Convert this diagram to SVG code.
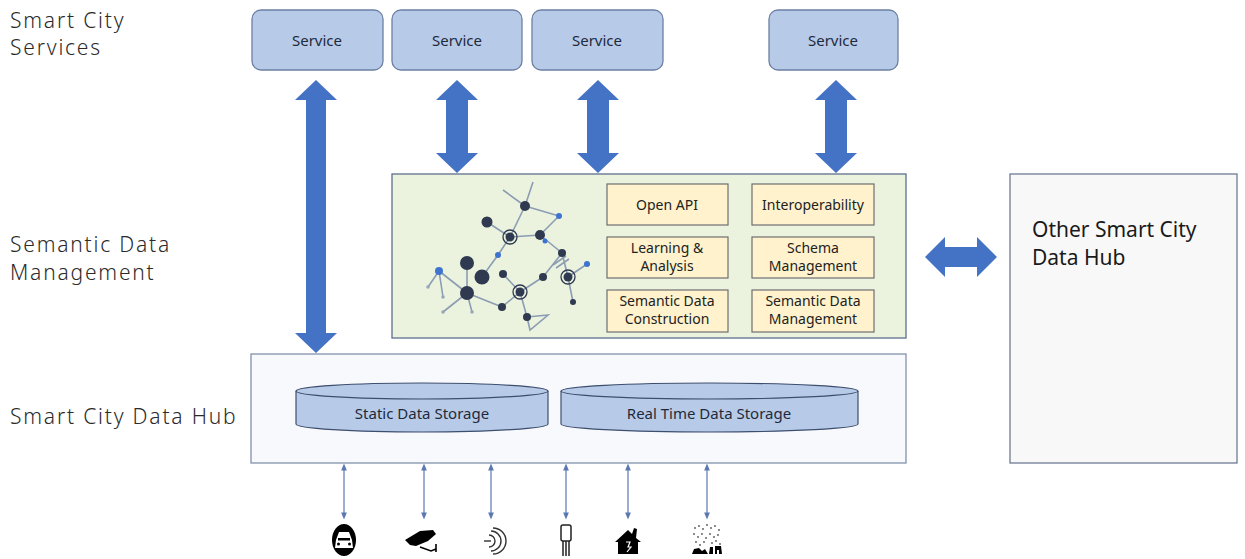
<svg xmlns="http://www.w3.org/2000/svg" width="1245" height="559" viewBox="0 0 1245 559">
  <style>
    .lbl { font-family: "Noto Sans", "Open Sans", sans-serif; font-size: 21px; fill: #2b2b2b; font-weight: 300; letter-spacing: 1.8px; }
    .svc { fill: #b7cbe9; stroke: #6c80a3; stroke-width: 1.3; }
    .svct { font-family: "Noto Sans", "Open Sans", sans-serif; font-size: 15px; fill: #1e2a3a; text-anchor: middle; }
    .func { fill: #fff2cc; stroke: #6e6e6e; stroke-width: 1.2; }
    .funct { font-family: "Noto Sans", "Open Sans", sans-serif; font-size: 14px; fill: #222; text-anchor: middle; }
    .big { fill: #4472c4; }
    .thin { stroke: #5b78b0; stroke-width: 1.2; fill: none; marker-start: url(#sa); marker-end: url(#sa); }
    .cyl { fill: #b7cbe9; stroke: #3e4e6e; stroke-width: 1.2; }
    .cylt { font-family: "Noto Sans", "Open Sans", sans-serif; font-size: 15px; fill: #1e2a3a; text-anchor: middle; }
    .edge { stroke: #8c9cb3; stroke-width: 1.6; fill: none; }
    .dk { fill: #2f394f; }
    .bl { fill: #3f73d0; }
    .ring { fill: none; stroke: #2f394f; stroke-width: 1.3; }
    .icon { fill: #000; }
  </style>
  <defs>
    <marker id="sa" viewBox="0 0 10 10" refX="5" refY="5" markerWidth="6" markerHeight="6" orient="auto-start-reverse">
      <path d="M0,1 L10,5 L0,9 Z" fill="#5b78b0"/>
    </marker>
  </defs>

  <rect width="1245" height="559" fill="#ffffff"/>

  <!-- layer labels -->
  <g id="layer-labels">
    <text class="lbl" x="10" y="28">Smart City</text>
    <text class="lbl" x="10" y="55">Services</text>
    <text class="lbl" x="10" y="252">Semantic Data</text>
    <text class="lbl" x="10" y="280">Management</text>
    <text class="lbl" x="10" y="424">Smart City Data Hub</text>
  </g>

  <!-- services -->
  <g id="service-1"><rect class="svc" x="252" y="10" width="131" height="60" rx="9"/><text class="svct" x="317" y="46">Service</text></g>
  <g id="service-2"><rect class="svc" x="392" y="10" width="130" height="60" rx="9"/><text class="svct" x="457" y="46">Service</text></g>
  <g id="service-3"><rect class="svc" x="532" y="10" width="131" height="60" rx="9"/><text class="svct" x="597" y="46">Service</text></g>
  <g id="service-4"><rect class="svc" x="769" y="10" width="129" height="60" rx="9"/><text class="svct" x="833" y="46">Service</text></g>

  <!-- semantic data management panel -->
  <g id="semantic-panel">
    <rect x="392" y="174" width="514" height="164" fill="#ebf3df" stroke="#5d6f8c" stroke-width="1.3"/>
    <!-- knowledge graph glyph -->
    <g id="graph-glyph">
      <path class="edge" d="M533,182 L525,206 M503,190 L525,206 M525,206 L559,216 M525,206 L510,237 M487,222 L510,237 M510,237 L540,235 M540,235 L559,216 M540,235 L562,253 M510,237 L498,255 M498,255 L482,277 M562,253 L568,277 M568,277 L587,264 M568,277 L573,302 M562,253 L543,277 M543,277 L520,292 M503,274 L520,292 M520,292 L502,307 M502,307 L467,293 M467,293 L467,263 M467,293 L439,271 M439,271 L428,287 M439,271 L443,297 M467,293 L443,312 M467,293 L472,312 M520,292 L527,317 M527,317 L530,330 L548,315 L527,317 M553,265 L566,256 M556,268 L569,259"/>
      <circle class="dk" cx="525" cy="206" r="5"/>
      <circle class="bl" cx="559" cy="216" r="3"/>
      <circle class="dk" cx="487" cy="222" r="5.5"/>
      <circle class="dk" cx="510" cy="237" r="4.5"/>
      <circle class="ring" cx="510" cy="237" r="7"/>
      <circle class="dk" cx="540" cy="235" r="5"/>
      <circle class="bl" cx="545" cy="241" r="2.5"/>
      <circle class="bl" cx="498" cy="255" r="3"/>
      <circle class="dk" cx="562" cy="253" r="4"/>
      <circle class="bl" cx="587" cy="264" r="3"/>
      <circle class="dk" cx="467" cy="263" r="7"/>
      <circle class="bl" cx="439" cy="271" r="4"/>
      <circle class="dk" cx="568" cy="277" r="4.5"/>
      <circle class="ring" cx="568" cy="277" r="7"/>
      <circle class="dk" cx="482" cy="277" r="7.5"/>
      <circle class="dk" cx="503" cy="274" r="4"/>
      <circle class="dk" cx="543" cy="277" r="4"/>
      <circle class="dk" cx="520" cy="292" r="4.5"/>
      <circle class="ring" cx="520" cy="292" r="7"/>
      <circle class="dk" cx="467" cy="293" r="7"/>
      <circle class="dk" cx="573" cy="302" r="3"/>
      <circle class="dk" cx="502" cy="307" r="4"/>
      <circle class="dk" cx="527" cy="317" r="4"/>
      <circle fill="#9aa7b8" cx="428" cy="287" r="1.8"/>
      <circle fill="#9aa7b8" cx="443" cy="297" r="1.8"/>
      <circle fill="#9aa7b8" cx="443" cy="312" r="1.8"/>
      <circle fill="#9aa7b8" cx="472" cy="312" r="1.8"/>
    </g>
  </g>

  <g id="fn-open-api"><rect class="func" x="607" y="184" width="121" height="41"/><text class="funct" x="667" y="210">Open API</text></g>
  <g id="fn-interoperability"><rect class="func" x="752" y="184" width="122" height="41"/><text class="funct" x="813" y="210">Interoperability</text></g>
  <g id="fn-learning"><rect class="func" x="607" y="237" width="121" height="41"/><text class="funct" x="667" y="253">Learning &amp;</text><text class="funct" x="667" y="271">Analysis</text></g>
  <g id="fn-schema"><rect class="func" x="752" y="237" width="122" height="41"/><text class="funct" x="813" y="253">Schema</text><text class="funct" x="813" y="271">Management</text></g>
  <g id="fn-construction"><rect class="func" x="607" y="290" width="121" height="42"/><text class="funct" x="667" y="306">Semantic Data</text><text class="funct" x="667" y="324">Construction</text></g>
  <g id="fn-management"><rect class="func" x="752" y="290" width="122" height="42"/><text class="funct" x="813" y="306">Semantic Data</text><text class="funct" x="813" y="324">Management</text></g>

  <!-- data hub -->
  <g id="data-hub">
    <rect x="251" y="354" width="655" height="109" fill="#f7f9fc" stroke="#8292ad" stroke-width="1.3"/>
  </g>
  <g id="static-storage">
    <path class="cyl" d="M296,391 L296,424 A126,8 0 0 0 548,424 L548,391"/>
    <ellipse class="cyl" cx="422" cy="391" rx="126" ry="8"/>
    <text class="cylt" x="422" y="419">Static Data Storage</text>
  </g>
  <g id="realtime-storage">
    <path class="cyl" d="M561,391 L561,424 A148.5,8 0 0 0 858,424 L858,391"/>
    <ellipse class="cyl" cx="709.5" cy="391" rx="148.5" ry="8"/>
    <text class="cylt" x="709" y="419">Real Time Data Storage</text>
  </g>

  <!-- other data hub -->
  <g id="other-hub">
    <rect x="1010" y="174" width="227" height="289" fill="#f8f8f8" stroke="#6c7b96" stroke-width="1.3"/>
    <text x="1032" y="237" font-family="Noto Sans, Open Sans, sans-serif" font-size="21" fill="#1a1a1a">Other Smart City</text>
    <text x="1032" y="265" font-family="Noto Sans, Open Sans, sans-serif" font-size="21" fill="#1a1a1a">Data Hub</text>
  </g>

  <!-- connectors -->
  <g id="connectors">
    <path class="big" d="M316,80 L337,100 L326,100 L326,333 L337,333 L316,353 L295,333 L306,333 L306,100 L295,100 Z"/>
    <path class="big" d="M457,80 L478,100 L468,100 L468,153 L478,153 L457,173 L436,153 L446,153 L446,100 L436,100 Z"/>
    <path class="big" d="M598,80 L619,100 L609,100 L609,153 L619,153 L598,173 L577,153 L587,153 L587,100 L577,100 Z"/>
    <path class="big" d="M836,80 L857,100 L847,100 L847,153 L857,153 L836,173 L815,153 L825,153 L825,100 L815,100 Z"/>
    <path class="big" d="M925,257 L945,237 L945,247 L977,247 L977,237 L997,257 L977,277 L977,267 L945,267 L945,277 Z"/>
    <line class="thin" x1="344" y1="467" x2="344" y2="516"/>
    <line class="thin" x1="424" y1="467" x2="424" y2="516"/>
    <line class="thin" x1="491" y1="467" x2="491" y2="516"/>
    <line class="thin" x1="566" y1="467" x2="566" y2="516"/>
    <line class="thin" x1="628" y1="467" x2="628" y2="516"/>
    <line class="thin" x1="707" y1="467" x2="707" y2="516"/>
  </g>

  <!-- device icons -->
  <g id="icon-car">
    <ellipse class="icon" cx="344" cy="540" rx="12" ry="16"/>
    <path d="M336,540 L339,532 L349,532 L352,540 L353,548 L335,548 Z" fill="#fff"/>
    <rect x="338" y="538" width="12" height="2.5" fill="#000"/>
    <circle cx="338.5" cy="544" r="1.5" fill="#000"/>
    <circle cx="349.5" cy="544" r="1.5" fill="#000"/>
  </g>
  <g id="icon-camera">
    <path class="icon" d="M405,540 L420,531 L433,530 L436,534 L428,541 L416,546 L410,545 Z"/>
    <path d="M420,547 L431,551 L436,549 M436,544 L436,552" stroke="#000" stroke-width="1.6" fill="none"/>
  </g>
  <g id="icon-sensor" fill="none" stroke="#333" stroke-width="1.4">
    <path d="M489,535 A6,6 0 0 1 489,547"/>
    <path d="M491,531 A10,10 0 0 1 491,551"/>
    <path d="M493,528 A13,13 0 0 1 493,554"/>
    <line x1="484" y1="541" x2="491" y2="541"/>
  </g>
  <g id="icon-probe" fill="none" stroke="#222" stroke-width="1.5">
    <rect x="561" y="525" width="10" height="16" rx="2"/>
    <path d="M563,541 L563,556 M566,541 L566,556 M569,541 L569,556"/>
  </g>
  <g id="icon-house">
    <path class="icon" d="M615,542 L628,530 L632,534 L634,528 L637,529 L636,538 L641,542 L638,542 L638,554 L618,554 L618,542 Z"/>
    <path d="M626,542 L630,542 L628,547 L631,547 L627,552" stroke="#fff" stroke-width="1.2" fill="none"/>
  </g>
  <g id="icon-weather">
    <g fill="#555">
      <circle cx="695" cy="528" r="0.9"/><circle cx="699" cy="526" r="0.9"/><circle cx="703" cy="529" r="0.9"/><circle cx="707" cy="525" r="0.9"/><circle cx="711" cy="528" r="0.9"/><circle cx="715" cy="526" r="0.9"/><circle cx="719" cy="530" r="0.9"/>
      <circle cx="694" cy="534" r="0.9"/><circle cx="698" cy="537" r="0.9"/><circle cx="702" cy="534" r="0.9"/><circle cx="706" cy="538" r="0.9"/><circle cx="710" cy="534" r="0.9"/><circle cx="714" cy="537" r="0.9"/><circle cx="718" cy="535" r="0.9"/>
      <circle cx="696" cy="542" r="0.9"/><circle cx="700" cy="545" r="0.9"/><circle cx="704" cy="542" r="0.9"/><circle cx="712" cy="543" r="0.9"/><circle cx="716" cy="541" r="0.9"/><circle cx="720" cy="544" r="0.9"/>
    </g>
    <path class="icon" d="M692,554 L694,549 L699,548 L702,551 L705,549 L708,554 Z"/>
    <path class="icon" d="M709,554 L710,547 L713,547 L713,554 Z M715,554 L715,546 L721,546 L722,554 L719,554 L719,550 L717,550 L717,554 Z"/>
  </g>
</svg>
